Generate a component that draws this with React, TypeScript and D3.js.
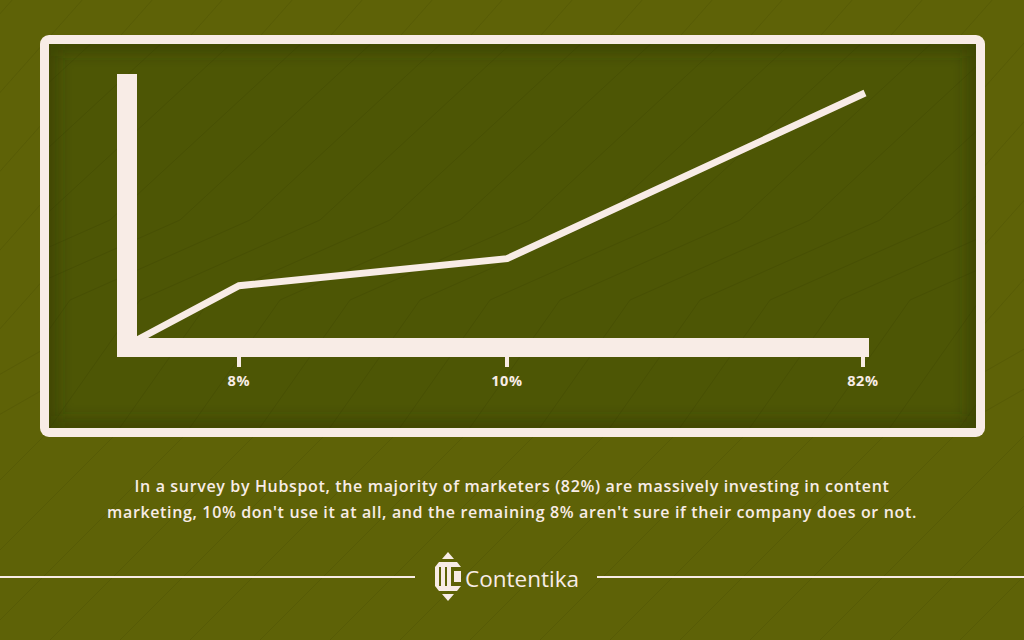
import React, { useEffect, useRef } from 'react'
import * as d3 from 'd3'

// chart values
const categories = ['8%', '10%', '82%']
const lineLevels = [18, 27, 82] // relative height of each vertex on the drawn line
const caption = [
  'In a survey by Hubspot, the majority of marketers (82%) are massively investing in content',
  "marketing, 10% don't use it at all, and the remaining 8% aren't sure if their company does or not.",
]
const brand = 'Contentika'

const W = 1024, H = 640
const cream = '#f8ece6'
const bgOuter = '#5e6207'
const bgInner = '#4d5605'

export default function App() {
  const ref = useRef<SVGSVGElement>(null)

  useEffect(() => {
    const svg = d3.select(ref.current)
    svg.selectAll('*').remove()

    const defs = svg.append('defs')
    defs.append('clipPath').attr('id', 'innerClip')
      .append('rect').attr('x', 49).attr('y', 44).attr('width', 927).attr('height', 384)
    defs.append('filter').attr('id', 'blur')
      .attr('x', '-10%').attr('y', '-10%').attr('width', '120%').attr('height', '120%')
      .append('feGaussianBlur').attr('stdDeviation', 8)

    svg.append('rect').attr('width', W).attr('height', H).attr('fill', bgOuter)

    // faint diagonal texture
    const tex = svg.append('g').attr('stroke', '#000').attr('stroke-opacity', 0.07)
      .attr('fill', 'none').attr('stroke-width', 1)
    d3.range(-12, 22).forEach(i => {
      const x0 = i * 70
      tex.append('path').attr('d',
        `M${x0 - 200},${H + 40} L${x0 + 60},${H - 220} L${x0 + 200},${H - 300} L${x0 + 520},${-20}`)
    })

    // frame
    svg.append('rect').attr('x', 40).attr('y', 35).attr('width', 945).attr('height', 402)
      .attr('rx', 9).attr('fill', cream)
    svg.append('rect').attr('x', 49).attr('y', 44).attr('width', 927).attr('height', 384)
      .attr('fill', bgInner)
    const inner = svg.append('g').attr('clip-path', 'url(#innerClip)')
    const tex2 = inner.append('g').attr('stroke', '#000').attr('stroke-opacity', 0.07)
      .attr('fill', 'none')
    d3.range(-12, 22).forEach(i => {
      const x0 = i * 70 + 30
      tex2.append('path').attr('d',
        `M${x0 - 200},${H} L${x0 + 40},${300} L${x0 + 220},${220} L${x0 + 480},${-20}`)
    })
    inner.append('rect').attr('x', 49).attr('y', 44).attr('width', 927).attr('height', 384)
      .attr('fill', 'none').attr('stroke', '#2a3000').attr('stroke-opacity', 0.5)
      .attr('stroke-width', 14).attr('filter', 'url(#blur)')

    // scales
    const x = d3.scaleLinear().domain([-1, 0, 1, 2]).range([137, 239, 507, 865])
    const y = d3.scaleLinear().domain([0, 82]).range([340, 93])

    // axes bars
    svg.append('rect').attr('x', 117).attr('y', 74).attr('width', 20).attr('height', 283).attr('fill', cream)
    svg.append('rect').attr('x', 117).attr('y', 338).attr('width', 752).attr('height', 19).attr('fill', cream)

    const ticks = svg.append('g')
    categories.forEach((c, i) => {
      const tx = i === categories.length - 1 ? x(i) - 2 : x(i)
      ticks.append('rect').attr('x', tx - 2).attr('y', 356).attr('width', 4).attr('height', 11).attr('fill', cream)
      ticks.append('text').attr('x', tx).attr('y', 386).attr('text-anchor', 'middle')
        .attr('fill', cream).attr('font-family', 'Open Sans').attr('font-weight', 700)
        .attr('font-size', 14.5).attr('letter-spacing', 0.7).text(c)
    })

    const pts: [number, number][] = [[x(-1), y(0)], ...lineLevels.map((v, i) => [x(i), y(v)] as [number, number])]
    svg.append('path').attr('d', d3.line()(pts)!)
      .attr('fill', 'none').attr('stroke', cream).attr('stroke-width', 7)
      .attr('stroke-linejoin', 'miter')

    // caption
    caption.forEach((t, i) => {
      svg.append('text').attr('x', 512).attr('y', 492 + i * 26).attr('text-anchor', 'middle')
        .attr('fill', cream).attr('font-family', 'Open Sans').attr('font-weight', 600)
        .attr('font-size', 16).attr('letter-spacing', 0.65).text(t)
    })

    // footer
    svg.append('line').attr('x1', 0).attr('x2', 415).attr('y1', 577).attr('y2', 577)
      .attr('stroke', cream).attr('stroke-width', 2)
    svg.append('line').attr('x1', 597).attr('x2', W).attr('y1', 577).attr('y2', 577)
      .attr('stroke', cream).attr('stroke-width', 2)

    const logo = svg.append('g').attr('fill', cream)
    logo.append('path').attr('d', 'M448,552 L454,559 L442,559 Z')
    logo.append('path').attr('d', 'M448,601 L454,594 L442,594 Z')
    logo.append('path').attr('d', 'M439,562 L457,562 L461,567 L461,586 L457,591 L439,591 L435,586 L435,567 Z')
    const dark = svg.append('g').attr('fill', bgOuter)
    dark.append('rect').attr('x', 439).attr('y', 567).attr('width', 2).attr('height', 19)
    dark.append('rect').attr('x', 445).attr('y', 567).attr('width', 2).attr('height', 19)
    dark.append('path').attr('d', 'M451,567 L461,567 L461,571 L454,571 L454,582 L461,582 L461,586 L451,586 Z')

    svg.append('text').attr('x', 465).attr('y', 587).attr('fill', cream)
      .attr('font-family', 'Open Sans').attr('font-weight', 400).attr('font-size', 22.5)
      .text(brand)
  }, [])

  return <svg ref={ref} width={W} height={H} style={{ display: 'block', position: 'absolute', left: 0, top: 0 }} />
}
